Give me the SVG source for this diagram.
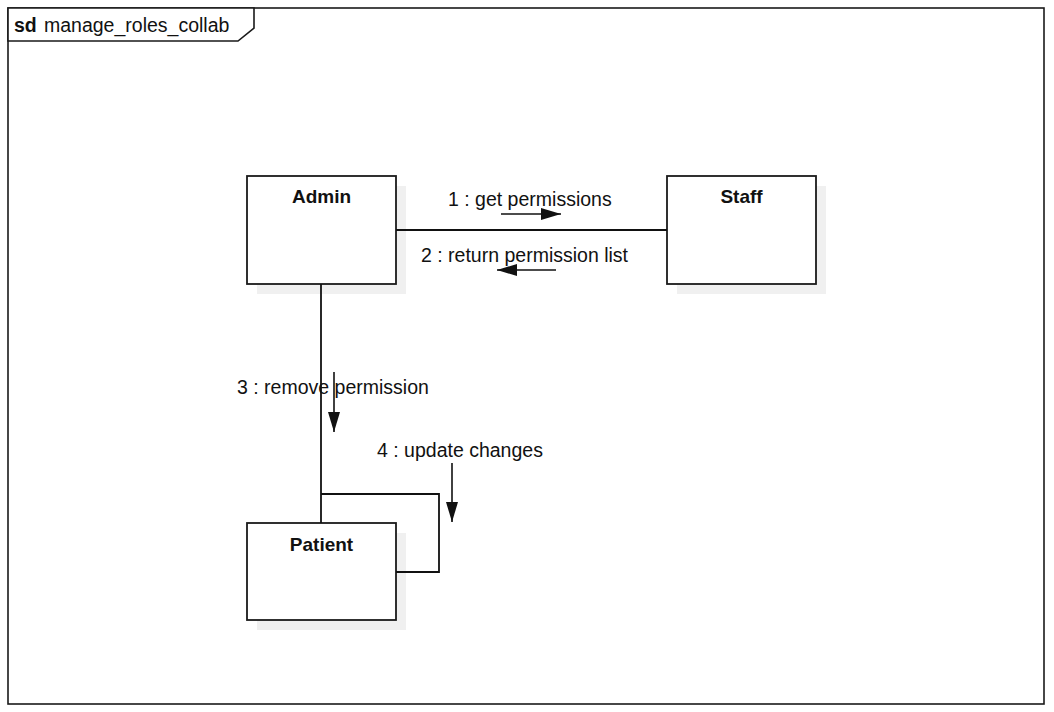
<svg xmlns="http://www.w3.org/2000/svg" width="1054" height="712" viewBox="0 0 1054 712">
<style>
.frame{fill:#fff;stroke:#1a1a1a;stroke-width:1.6}
.box{fill:#fff;stroke:#1a1a1a;stroke-width:1.8}
.shadow{fill:#f0f0f0;stroke:none}
.line{fill:none;stroke:#111;stroke-width:1.8}
.arr{fill:none;stroke:#111;stroke-width:1.6;marker-end:url(#head)}
.t{font-family:"Liberation Sans",Arial,sans-serif;font-size:19.5px;fill:#111}
.b{font-weight:bold;text-anchor:middle;font-size:19px}
</style>
<defs>
<marker id="head" viewBox="0 0 20 12" refX="20" refY="6" markerWidth="20" markerHeight="12" markerUnits="userSpaceOnUse" orient="auto">
<path d="M0,0 L20,6 L0,12 Z" fill="#111"/>
</marker>
</defs>
<rect width="1054" height="712" fill="#fff"/>
<g id="frame">
<rect class="frame" x="8" y="8" width="1036" height="696"/>
<path class="frame" d="M8,8 H254 V28 L238,41 H8 Z"/>
<text class="t" x="14" y="32"><tspan font-weight="bold">sd</tspan><tspan x="44">manage_roles_collab</tspan></text>
</g>
<g id="admin">
<rect class="shadow" x="257" y="186" width="149" height="108"/>
<rect class="box" x="247" y="176" width="149" height="108"/>
<text class="t b" x="321.5" y="203">Admin</text>
</g>
<g id="staff">
<rect class="shadow" x="677" y="186" width="149" height="108"/>
<rect class="box" x="667" y="176" width="149" height="108"/>
<text class="t b" x="741.5" y="203">Staff</text>
</g>
<g id="patient">
<rect class="shadow" x="257" y="533" width="149" height="97"/>
<rect class="box" x="247" y="523" width="149" height="97"/>
<text class="t b" x="321.5" y="551">Patient</text>
</g>
<g id="connectors">
<line class="line" x1="396" y1="230" x2="667" y2="230"/>
<line class="line" x1="321" y1="284" x2="321" y2="523"/>
<path class="line" d="M321,494 H439 V572 H396"/>
<line class="arr" x1="501" y1="214" x2="561" y2="214"/>
<line class="arr" x1="556" y1="270" x2="497" y2="270"/>
<line class="arr" x1="334" y1="372" x2="334" y2="432"/>
<line class="arr" x1="452" y1="463" x2="452" y2="522"/>
<text class="t" x="448" y="206">1 : get permissions</text>
<text class="t" x="421" y="262">2 : return permission list</text>
<text class="t" x="237" y="394">3 : remove permission</text>
<text class="t" x="377" y="457">4 : update changes</text>
</g>
</svg>
